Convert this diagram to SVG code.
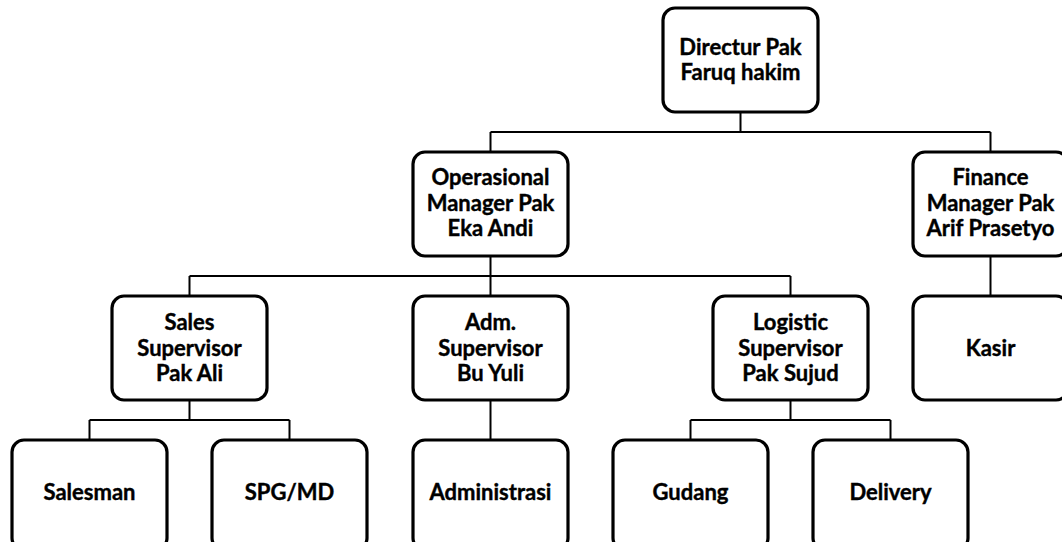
<svg xmlns="http://www.w3.org/2000/svg" width="1062" height="542" viewBox="0 0 1062 542">
<style>
.box{fill:#fff;stroke:#000;stroke-width:3.2}
.t{font-family:Lato,"Liberation Sans",sans-serif;font-weight:bold;font-size:22px;fill:#000;stroke:#000;stroke-width:0.4;text-anchor:middle}
.c{fill:none;stroke:#000;stroke-width:2}
</style>
<rect width="1062" height="542" fill="#fff"/>
<g id="connectors">
<path class="c" d="M740.5 112V132M490.5 132H990.5M490.5 132V152M990.5 132V152"/>
<path class="c" d="M490.5 256V276M189.5 276H790.5M189.5 276V296M490.5 276V296M790.5 276V296"/>
<path class="c" d="M990.5 256V296"/>
<path class="c" d="M189.5 400V420M89.5 420H289.5M89.5 420V440M289.5 420V440"/>
<path class="c" d="M490.5 400V440"/>
<path class="c" d="M790.5 400V420M690.5 420H890.5M690.5 420V440M890.5 420V440"/>
</g>
<g id="director"><rect class="box" x="663" y="8" width="155" height="104" rx="12"/><text class="t" x="740.5" y="54.5">Directur Pak</text><text class="t" x="740.5" y="79.5">Faruq hakim</text></g>
<g id="operasional"><rect class="box" x="413" y="152" width="155" height="104" rx="12"/><text class="t" x="490.5" y="185">Operasional</text><text class="t" x="490.5" y="210.5">Manager Pak</text><text class="t" x="490.5" y="236">Eka Andi</text></g>
<g id="finance"><rect class="box" x="913" y="152" width="155" height="104" rx="12"/><text class="t" x="990.5" y="185">Finance</text><text class="t" x="990.5" y="210.5">Manager Pak</text><text class="t" x="990.5" y="236">Arif Prasetyo</text></g>
<g id="sales"><rect class="box" x="112" y="296" width="155" height="104" rx="12"/><text class="t" x="189.5" y="330">Sales</text><text class="t" x="189.5" y="355.5">Supervisor</text><text class="t" x="189.5" y="381">Pak Ali</text></g>
<g id="adm"><rect class="box" x="413" y="296" width="155" height="104" rx="12"/><text class="t" x="490.5" y="330">Adm.</text><text class="t" x="490.5" y="355.5">Supervisor</text><text class="t" x="490.5" y="381">Bu Yuli</text></g>
<g id="logistic"><rect class="box" x="713" y="296" width="155" height="104" rx="12"/><text class="t" x="790.5" y="330">Logistic</text><text class="t" x="790.5" y="355.5">Supervisor</text><text class="t" x="790.5" y="381">Pak Sujud</text></g>
<g id="kasir"><rect class="box" x="913" y="296" width="155" height="104" rx="12"/><text class="t" x="990.5" y="355.5">Kasir</text></g>
<g id="salesman"><rect class="box" x="12" y="440" width="155" height="110" rx="12"/><text class="t" x="89.5" y="499.5">Salesman</text></g>
<g id="spgmd"><rect class="box" x="212" y="440" width="155" height="110" rx="12"/><text class="t" x="289.5" y="499.5">SPG/MD</text></g>
<g id="administrasi"><rect class="box" x="413" y="440" width="155" height="110" rx="12"/><text class="t" x="490.5" y="499.5">Administrasi</text></g>
<g id="gudang"><rect class="box" x="613" y="440" width="155" height="110" rx="12"/><text class="t" x="690.5" y="499.5">Gudang</text></g>
<g id="delivery"><rect class="box" x="813" y="440" width="155" height="110" rx="12"/><text class="t" x="890.5" y="499.5">Delivery</text></g>
</svg>
